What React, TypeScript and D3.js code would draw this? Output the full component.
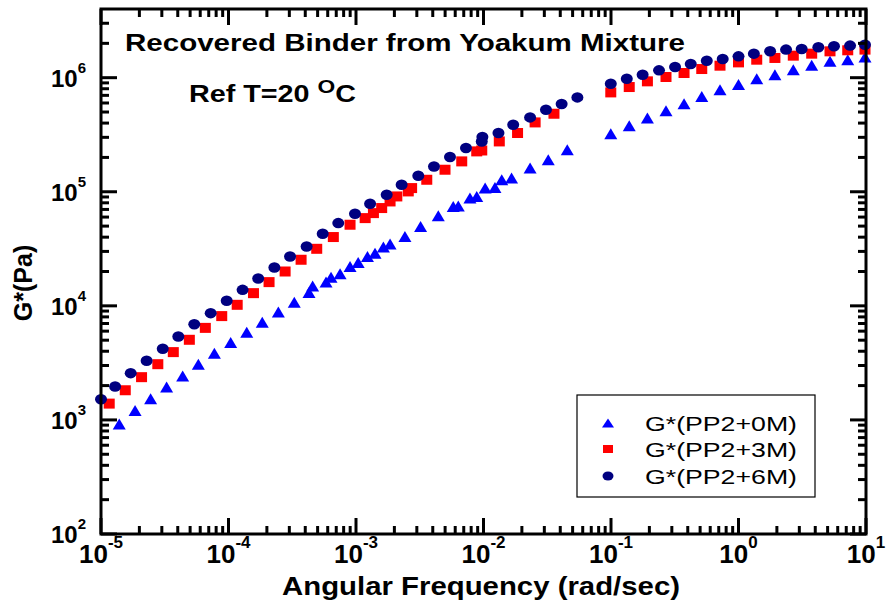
import React from 'react';
import * as d3 from 'd3';

// ---------- data ----------
const freq0M = [1.39e-5, 1.85e-5, 2.45e-5, 3.27e-5, 4.37e-5, 5.8e-5, 7.75e-5, 1.04e-4, 1.39e-4, 1.84e-4, 2.46e-4, 3.28e-4, 4.28e-4, 4.57e-4, 5.82e-4, 6.37e-4, 7.5e-4, 8.98e-4, 1.04e-3, 1.23e-3, 1.41e-3, 1.64e-3, 1.85e-3, 2.42e-3, 3.21e-3, 4.42e-3, 5.79e-3, 6.34e-3, 7.83e-3, 8.85e-3, 1.03e-2, 1.23e-2, 1.39e-2, 1.66e-2, 2.32e-2, 3.22e-2, 4.54e-2, 0.0996, 0.139, 0.193, 0.27, 0.374, 0.515, 0.716, 1.0, 1.39, 1.93, 2.69, 3.75, 5.22, 7.19, 9.82];
const g0M = [920, 1210, 1530, 1940, 2430, 3080, 3850, 4770, 5880, 7190, 8810, 10770, 13090, 14960, 16150, 17780, 19100, 22130, 23990, 27050, 28960, 32720, 34770, 40550, 49650, 61520, 74300, 75000, 88100, 91000, 107700, 109000, 127400, 131800, 161500, 191000, 233400, 322700, 379400, 442700, 514000, 591700, 685500, 785700, 869700, 979700, 1.062e6, 1.175e6, 1.282e6, 1.39e6, 1.438e6, 1.521e6];

const freq3M = [1.16e-5, 1.55e-5, 2.08e-5, 2.79e-5, 3.69e-5, 4.93e-5, 6.58e-5, 8.85e-5, 1.17e-4, 1.57e-4, 2.08e-4, 2.78e-4, 3.71e-4, 4.92e-4, 6.64e-4, 8.98e-4, 1.18e-3, 1.37e-3, 1.59e-3, 1.85e-3, 2.09e-3, 2.57e-3, 2.73e-3, 3.59e-3, 4.99e-3, 6.75e-3, 8.85e-3, 9.69e-3, 1.33e-2, 1.85e-2, 2.54e-2, 3.57e-2, 0.0996, 0.139, 0.193, 0.27, 0.374, 0.515, 0.716, 1.0, 1.39, 1.93, 2.69, 3.75, 5.22, 7.19, 9.82];
const g3M = [1390, 1820, 2370, 3080, 3930, 5040, 6410, 8130, 10210, 12920, 16140, 20000, 25350, 31620, 40090, 51400, 58750, 65000, 71970, 82240, 90990, 100700, 107700, 127400, 156000, 184600, 225900, 230100, 276200, 327400, 405400, 483000, 743000, 828000, 928800, 1.014e6, 1.099e6, 1.191e6, 1.274e6, 1.362e6, 1.438e6, 1.489e6, 1.56e6, 1.624e6, 1.702e6, 1.738e6, 1.762e6];

const freq6M = [1.0e-5, 1.29e-5, 1.71e-5, 2.28e-5, 3.05e-5, 4.04e-5, 5.39e-5, 7.25e-5, 9.68e-5, 1.29e-4, 1.71e-4, 2.29e-4, 3.04e-4, 4.1e-4, 5.48e-4, 7.26e-4, 9.82e-4, 1.29e-3, 1.74e-3, 2.28e-3, 3.08e-3, 4.09e-3, 5.46e-3, 7.29e-3, 9.69e-3, 9.8e-3, 1.31e-2, 1.71e-2, 2.32e-2, 3.09e-2, 4.1e-2, 5.45e-2, 0.0996, 0.133, 0.177, 0.238, 0.318, 0.422, 0.564, 0.752, 1.0, 1.32, 1.77, 2.36, 3.13, 4.23, 5.61, 7.5, 9.82];
const g6M = [1520, 1960, 2570, 3300, 4200, 5380, 6900, 8630, 11070, 13810, 17340, 21680, 27050, 33130, 42840, 53100, 64100, 78500, 94200, 115100, 138000, 166700, 201500, 241700, 276200, 302000, 327400, 387300, 448700, 523800, 587500, 671700, 885700, 979700, 1.062e6, 1.159e6, 1.241e6, 1.319e6, 1.409e6, 1.459e6, 1.538e6, 1.624e6, 1.702e6, 1.762e6, 1.787e6, 1.846e6, 1.883e6, 1.91e6, 1.945e6];

const legendLabels = ['G*(PP2+0M)', 'G*(PP2+3M)', 'G*(PP2+6M)'];
const xTickExps = [-5, -4, -3, -2, -1, 0, 1];
const yTickExps = [2, 3, 4, 5, 6];
const titleText = 'Recovered Binder from Yoakum Mixture';
const refText = 'Ref T=20 ';
const xTitle = 'Angular Frequency (rad/sec)';
const yTitle = 'G*(Pa)';

// ---------- layout ----------
const W = 886, H = 607;
const L = 101, R = 866, T = 9, B = 534;
const FONT = "'Liberation Sans', Arial, Helvetica, sans-serif";
const BLUE = '#0000FF', RED = '#FF0000', NAVY = '#000080';

const x = d3.scaleLog().domain([1e-5, 10]).range([L, R]);
const y = d3.scaleLog().domain([100, 4e6]).range([B, T]);

function minorTicks(lo: number, hi: number, max: number) {
  const out: number[] = [];
  for (let d = lo; d < hi; d++) {
    for (let k = 2; k <= 9; k++) {
      const v = k * Math.pow(10, d);
      if (v < max) out.push(v);
    }
  }
  return out;
}
const xMinor = minorTicks(-5, 1, 10);
const yMinor = minorTicks(2, 7, 3.99e6);

const Tri = ({ cx, cy, w, h, fill }: any) => (
  <path d={`M${cx},${cy - h / 2}L${cx + w / 2},${cy + h / 2}L${cx - w / 2},${cy + h / 2}Z`} fill={fill} />
);
const Sq = ({ cx, cy, w, h, fill }: any) => (
  <rect x={cx - w / 2} y={cy - h / 2} width={w} height={h} fill={fill} />
);
const Dot = ({ cx, cy, w, h, fill }: any) => (
  <ellipse cx={cx} cy={cy} rx={w / 2} ry={h / 2} fill={fill} />
);

export default function App() {
  const MAJ = 16, MIN = 8, SW = 3;
  const legendRows = [
    { y: 423, M: Tri, c: BLUE, w: 12, h: 9 },
    { y: 449, M: Sq, c: RED, w: 10, h: 8 },
    { y: 476, M: Dot, c: NAVY, w: 11, h: 9 },
  ];
  return (
    <svg width={W} height={H} style={{ position: 'absolute', left: 0, top: 0, background: '#fff' }} fontFamily={FONT}>
      <rect x={0} y={0} width={W} height={H} fill="#fff" />
      {/* data */}
      <g>
        {freq0M.map((f, i) => (
          <Tri key={'a' + i} cx={x(f)} cy={y(g0M[i])} w={13} h={11} fill={BLUE} />
        ))}
        {freq3M.map((f, i) => (
          <Sq key={'b' + i} cx={x(f)} cy={y(g3M[i])} w={11} h={10} fill={RED} />
        ))}
        {freq6M.map((f, i) => (
          <Dot key={'c' + i} cx={x(f)} cy={y(g6M[i])} w={12} h={10.5} fill={NAVY} />
        ))}
      </g>
      {/* frame */}
      <rect x={L} y={T} width={R - L} height={B - T} fill="none" stroke="#000" strokeWidth={SW} />
      {/* ticks */}
      <g stroke="#000" strokeWidth={SW}>
        {xTickExps.map((e) => {
          const px = x(Math.pow(10, e));
          return (
            <g key={'xm' + e}>
              <line x1={px} x2={px} y1={B} y2={B - MAJ} />
              <line x1={px} x2={px} y1={T} y2={T + MAJ} />
            </g>
          );
        })}
        {xMinor.map((v, i) => {
          const px = x(v);
          return (
            <g key={'xn' + i}>
              <line x1={px} x2={px} y1={B} y2={B - MIN} />
              <line x1={px} x2={px} y1={T} y2={T + MIN} />
            </g>
          );
        })}
        {yTickExps.map((e) => {
          const py = y(Math.pow(10, e));
          return (
            <g key={'ym' + e}>
              <line x1={L} x2={L + MAJ} y1={py} y2={py} />
              <line x1={R} x2={R - MAJ} y1={py} y2={py} />
            </g>
          );
        })}
        {yMinor.map((v, i) => {
          const py = y(v);
          return (
            <g key={'yn' + i}>
              <line x1={L} x2={L + MIN} y1={py} y2={py} />
              <line x1={R} x2={R - MIN} y1={py} y2={py} />
            </g>
          );
        })}
      </g>
      {/* tick labels */}
      <g fontWeight="bold" fill="#000">
        {xTickExps.map((e) => (
          <text key={'xl' + e} x={x(Math.pow(10, e))} y={563} textAnchor="middle" fontSize={26}>
            10<tspan dy={-15} fontSize={17}>{e < 0 ? '-' + Math.abs(e) : String(e)}</tspan>
          </text>
        ))}
        {yTickExps.map((e) => (
          <text key={'yl' + e} x={86} y={y(Math.pow(10, e)) + 9} textAnchor="end" fontSize={24}>
            10<tspan dy={-14} fontSize={15}>{String(e)}</tspan>
          </text>
        ))}
      </g>
      {/* axis titles */}
      <text x={481} y={595} textAnchor="middle" fontSize={25} fontWeight="bold" textLength={398} lengthAdjust="spacingAndGlyphs">
        {xTitle}
      </text>
      <text transform="translate(32,283) rotate(-90)" textAnchor="middle" fontSize={25} fontWeight="bold">
        {yTitle}
      </text>
      {/* annotations */}
      <text x={125} y={51} fontSize={24} fontWeight="bold" textLength={560} lengthAdjust="spacingAndGlyphs">
        {titleText}
      </text>
      <text x={189} y={102} fontSize={24} fontWeight="bold" textLength={167} lengthAdjust="spacingAndGlyphs">
        {refText}
        <tspan dy={-9} fontSize={19}>O</tspan>
        <tspan dy={9}>C</tspan>
      </text>
      {/* legend */}
      <rect x={577} y={395} width={238} height={102} fill="#fff" stroke="#000" strokeWidth={1.2} />
      {legendRows.map((r, i) => (
        <g key={'lg' + i}>
          <r.M cx={608} cy={r.y} w={r.w} h={r.h} fill={r.c} />
          <text x={645} y={r.y + 7.5} fontSize={21} textLength={152} lengthAdjust="spacingAndGlyphs">
            {legendLabels[i]}
          </text>
        </g>
      ))}
    </svg>
  );
}
